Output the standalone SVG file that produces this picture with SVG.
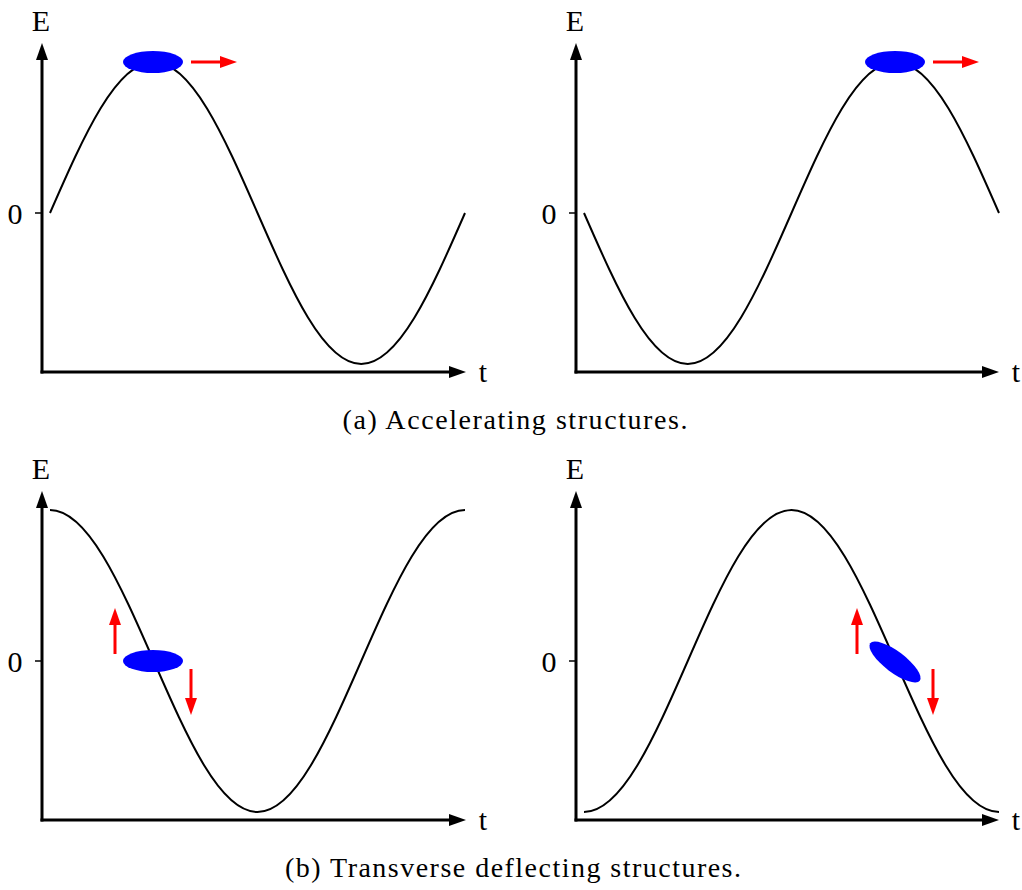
<svg xmlns="http://www.w3.org/2000/svg" width="1022" height="890" viewBox="0 0 1022 890">
<style>
.ax{stroke:#000;stroke-width:3;fill:none;marker-end:url(#ah)}
.tk{stroke:#000;stroke-width:1.5;fill:none}
.cv{stroke:#000;stroke-width:2;fill:none}
.rd{stroke:#f00;stroke-width:3;fill:none;marker-end:url(#rh)}
.bn{fill:#00f;stroke:none}
text{font-family:"Liberation Serif","DejaVu Serif",serif;font-size:30px;fill:#000}
.lb{text-anchor:middle}
.cap{text-anchor:middle;font-size:28px}
</style>
<defs>
<marker id="ah" markerUnits="userSpaceOnUse" markerWidth="20" markerHeight="14" viewBox="0 -7 18 14" refX="6" refY="0" orient="auto"><path d="M0,-6 L17,0 L0,6 z" fill="#000"/></marker>
<marker id="rh" markerUnits="userSpaceOnUse" markerWidth="20" markerHeight="14" viewBox="0 -7 18 14" refX="6" refY="0" orient="auto"><path d="M0,-6 L17,0 L0,6 z" fill="#f00"/></marker>
</defs>
<g id="connectors">
<line class="ax" x1="42" y1="373.5" x2="42" y2="54"/>
<line class="ax" x1="40.5" y1="372" x2="455" y2="372"/>
<line class="ax" x1="576" y1="373.5" x2="576" y2="54"/>
<line class="ax" x1="574.5" y1="372" x2="988" y2="372"/>
<line class="ax" x1="42" y1="821.5" x2="42" y2="502"/>
<line class="ax" x1="40.5" y1="820" x2="455" y2="820"/>
<line class="ax" x1="576" y1="821.5" x2="576" y2="502"/>
<line class="ax" x1="574.5" y1="820" x2="988" y2="820"/>
<line class="tk" x1="35" y1="213" x2="42" y2="213"/>
<line class="tk" x1="569" y1="213" x2="576" y2="213"/>
<line class="tk" x1="35" y1="661" x2="42" y2="661"/>
<line class="tk" x1="569" y1="661" x2="576" y2="661"/>
<line class="rd" x1="191" y1="62" x2="226" y2="62"/>
<line class="rd" x1="933" y1="62" x2="968" y2="62"/>
<line class="rd" x1="115" y1="654" x2="115" y2="619"/>
<line class="rd" x1="191" y1="669" x2="191" y2="704"/>
<line class="rd" x1="857" y1="654" x2="857" y2="619"/>
<line class="rd" x1="933" y1="669" x2="933" y2="704"/>
</g>
<g id="plot-a1">
<path class="cv" d="M50,213 C83.84,135.64 116.2,62 153.75,62 S223.66,135.64 257.5,213 S323.7,364 361.25,364 S431.16,290.36 465,213"/>
<ellipse class="bn" cx="153" cy="62" rx="30" ry="11"/>
<text x="41" y="31" class="lb">E</text>
<text x="15" y="224" class="lb">0</text>
<text x="483" y="382" class="lb">t</text>
</g>
<g id="plot-a2">
<path class="cv" d="M584,213 C617.84,290.36 650.2,364 687.75,364 S757.66,290.36 791.5,213 S857.7,62 895.25,62 S965.16,135.64 999,213"/>
<ellipse class="bn" cx="895" cy="62" rx="30" ry="11"/>
<text x="575" y="31" class="lb">E</text>
<text x="549" y="224" class="lb">0</text>
<text x="1016" y="382" class="lb">t</text>
</g>
<g id="plot-b1">
<path class="cv" d="M50,510 C87.55,510 119.91,583.64 153.75,661 S219.95,812 257.5,812 S327.41,738.36 361.25,661 S427.45,510 465,510"/>
<ellipse class="bn" cx="153" cy="661" rx="30" ry="11"/>
<text x="41" y="479" class="lb">E</text>
<text x="15" y="672" class="lb">0</text>
<text x="483" y="830" class="lb">t</text>
</g>
<g id="plot-b2">
<path class="cv" d="M584,812 C621.55,812 653.91,738.36 687.75,661 S753.95,510 791.5,510 S861.41,583.64 895.25,661 S961.45,812 999,812"/>
<ellipse class="bn" cx="895" cy="662" rx="31" ry="10.5" transform="rotate(37 895 662)"/>
<text x="575" y="479" class="lb">E</text>
<text x="549" y="672" class="lb">0</text>
<text x="1016" y="830" class="lb">t</text>
</g>
<g id="captions">
<text x="515" y="429" class="cap" textLength="345">(a) Accelerating structures.</text>
<text x="513" y="877" class="cap" textLength="456">(b) Transverse deflecting structures.</text>
</g>
</svg>
